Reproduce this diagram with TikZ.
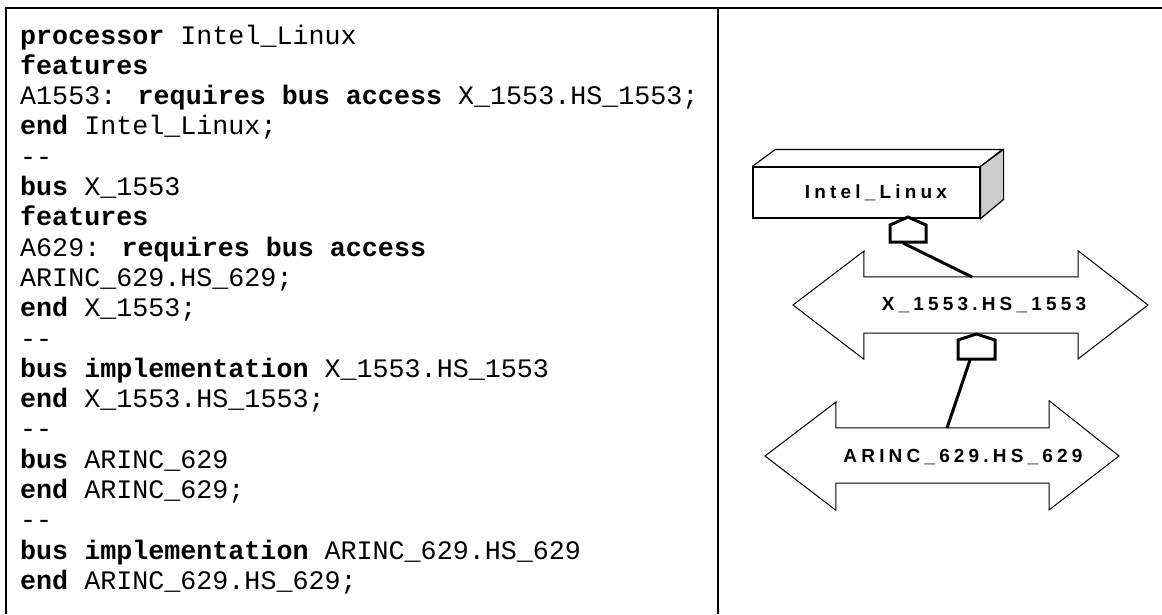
\documentclass[tikz,border=0pt]{standalone}
\usepackage{fontspec}
\setmainfont{Liberation Sans}
\newfontfamily\codefont{Liberation Mono}
\newfontfamily\labfont[LetterSpace=22]{Liberation Sans}
\begin{document}
\begin{tikzpicture}[x=1pt,y=-1pt,
  codeline/.style={anchor=base west, inner sep=0pt, font=\codefont\fontsize{26.7}{30}\selectfont},
  frameline/.style={line width=2.5pt},
  boxline/.style={line width=1.2pt, line join=miter},
  busline/.style={line width=1pt, line join=miter},
  portline/.style={line width=3pt, line join=miter},
  conn/.style={line width=3pt},
  buslabel/.style={inner sep=0pt, font=\labfont\bfseries\fontsize{19}{21}\selectfont},
  shaft/.style={inner sep=0pt, draw=none}
]
\useasboundingbox (0,0) rectangle (1162,614);
% frame
\draw[frameline] (6,614) -- (6,8) -- (1162,8);
\draw[frameline] (718,8) -- (718,614);
% code
\node[codeline] (l1)  at (20,44)    {\textbf{processor} Intel\_Linux};
\node[codeline] (l2)  at (20,74.3)  {\textbf{features}};
\node[codeline] (l3)  at (20,104.6) {A1553: \textbf{requires bus access} X\_1553.HS\_1553;};
\node[codeline] (l4)  at (20,134.9) {\textbf{end} Intel\_Linux;};
\node[codeline] (l5)  at (20,165.2) {-{}-};
\node[codeline] (l6)  at (20,195.5) {\textbf{bus} X\_1553};
\node[codeline] (l7)  at (20,225.8) {\textbf{features}};
\node[codeline] (l8)  at (20,256.1) {A629: \textbf{requires bus access}};
\node[codeline] (l9)  at (20,286.4) {ARINC\_629.HS\_629;};
\node[codeline] (l10) at (20,316.7) {\textbf{end} X\_1553;};
\node[codeline] (l11) at (20,347.0) {-{}-};
\node[codeline] (l12) at (20,377.3) {\textbf{bus implementation} X\_1553.HS\_1553};
\node[codeline] (l13) at (20,407.6) {\textbf{end} X\_1553.HS\_1553;};
\node[codeline] (l14) at (20,437.9) {-{}-};
\node[codeline] (l15) at (20,468.2) {\textbf{bus} ARINC\_629};
\node[codeline] (l16) at (20,498.5) {\textbf{end} ARINC\_629;};
\node[codeline] (l17) at (20,528.8) {-{}-};
\node[codeline] (l18) at (20,559.1) {\textbf{bus implementation} ARINC\_629.HS\_629};
\node[codeline] (l19) at (20,589.4) {\textbf{end} ARINC\_629.HS\_629;};
% processor box
\node[draw, boxline, minimum width=227pt, minimum height=51pt, inner sep=0pt] (intel) at (866.5,192.5) {};
\draw[boxline] (intel.north west) -- ++(23,-17) -- ++(227,0) -- (intel.north east);
\draw[boxline, fill=black!20] (intel.north east) -- ++(23,-17) -- ++(0,50) -- (intel.south east) -- cycle;
\node[buslabel] (intellab) at (876,193) {Intel\_Linux};
% bus X_1553
\node[shaft, minimum width=214pt, minimum height=56pt] (xbus) at (971,305) {};
\draw[busline] (xbus.north west) -- (xbus.north east) -- ++(0,-26) -- (1148,305) -- ++(-70,54) -- ++(0,-26)
  -- (xbus.south west) -- ++(0,26) -- (793,305) -- ++(71,-54) -- cycle;
\node[buslabel] (xlab) at (984,305) {X\_1553.HS\_1553};
% bus ARINC
\node[shaft, minimum width=213pt, minimum height=55pt] (abus) at (942.5,455.5) {};
\draw[busline] (abus.north west) -- (abus.north east) -- ++(0,-27) -- (1119,456) -- ++(-70,54) -- ++(0,-27)
  -- (abus.south west) -- ++(0,27) -- (765,456) -- ++(71,-54) -- cycle;
\node[buslabel] (alab) at (963,457) {ARINC\_629.HS\_629};
% port 1 (processor to X_1553)
\coordinate (p1) at (908,217);
\draw[portline] (p1) -- ++(18,8) -- ++(0,17) -- ++(-36,0) -- ++(0,-17) -- cycle;
\coordinate (p1b) at (903,243);
\coordinate (x1) at (972,277);
\draw[conn] (p1b) -- (x1);
% port 2 (X_1553 to ARINC)
\coordinate (p2) at (976.5,334);
\draw[portline] (p2) -- ++(18.5,6) -- ++(0,19) -- ++(-37,0) -- ++(0,-19) -- cycle;
\coordinate (p2b) at (970,360);
\coordinate (a1) at (947,428);
\draw[conn] (p2b) -- (a1);
\end{tikzpicture}
\end{document}
